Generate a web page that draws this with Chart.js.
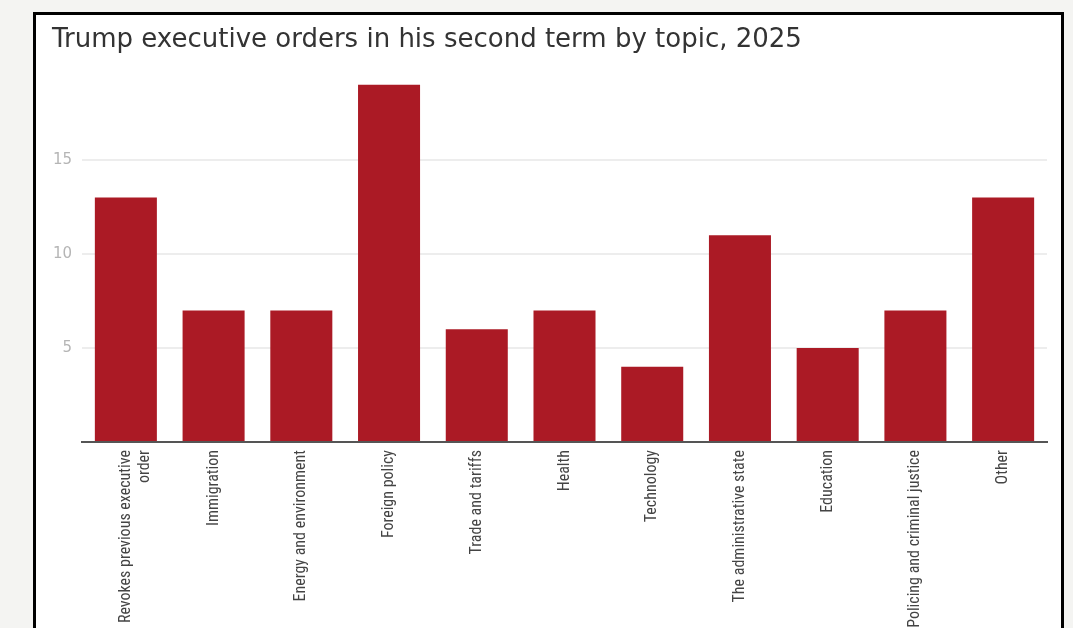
<!DOCTYPE html>
<html>
<head>
<meta charset="utf-8">
<script src="https://cdn.jsdelivr.net/npm/chart.js@4"></script>
<style>
  html, body { margin: 0; padding: 0; }
  body { width: 1073px; height: 628px; overflow: hidden; background: #f4f4f2; position: relative; }
  #panel { position: absolute; left: 33px; top: 12px; width: 1025px; height: 660px; border: 3px solid #000; background: #fff; }
  #wrap { position: absolute; left: 0; top: 0; width: 1025px; height: 640px; }
</style>
</head>
<body>
<div id="panel"><div id="wrap"><canvas id="c"></canvas></div></div>
<script>
const titleText = 'Trump executive orders in his second term by topic, 2025';
const categories = [
  ['Revokes previous executive', 'order'],
  'Immigration',
  'Energy and environment',
  'Foreign policy',
  'Trade and tariffs',
  'Health',
  'Technology',
  'The administrative state',
  'Education',
  'Policing and criminal justice',
  'Other'
];
const orderCounts = [13, 7, 7, 19, 6, 7, 4, 11, 5, 7, 13];
const yTicks = [5, 10, 15];
const yMin = 0, yMax = 20, yStep = 5;

new Chart(document.getElementById('c'), {
  type: 'bar',
  data: {
    labels: categories,
    datasets: [{
      data: orderCounts,
      backgroundColor: '#ab1a25',
      borderWidth: 0,
      categoryPercentage: 1.0,
      barPercentage: 0.707
    }]
  },
  options: {
    responsive: true,
    maintainAspectRatio: false,
    animation: false,
    layout: { padding: { left: 16, right: 14, top: 0, bottom: 0 } },
    plugins: {
      legend: { display: false },
      tooltip: { enabled: false },
      title: {
        display: true,
        text: titleText,
        align: 'start',
        color: '#333333',
        font: { family: "'DejaVu Sans', Roboto, sans-serif", size: 26, weight: 'normal', lineHeight: 1.2 },
        padding: { top: 9.5, bottom: 10.3 }
      }
    },
    scales: {
      x: {
        grid: { display: false },
        border: { display: true, color: '#555555', width: 2 },
        ticks: {
          maxRotation: 90, minRotation: 90, autoSkip: false,
          color: '#444444', padding: 0,
          font: { family: "'Liberation Sans Narrow', 'Arial Narrow', 'Roboto Condensed', 'Liberation Sans', sans-serif", size: 16 }
        },
        afterFit: (s) => { s.height = 213; }
      },
      y: {
        min: yMin, max: yMax,
        border: { display: false },
        grid: {
          drawTicks: false,
          lineWidth: 2,
          color: (ctx) => (yTicks.includes(ctx.tick && ctx.tick.value) ? '#ededed' : 'rgba(0,0,0,0)')
        },
        ticks: {
          stepSize: yStep,
          padding: 10,
          color: '#b5b5b5',
          font: { family: "'DejaVu Sans', Roboto, sans-serif", size: 15 },
          callback: (v) => (yTicks.includes(v) ? String(v) : '')
        },
        afterFit: (s) => { s.width = 30; }
      }
    }
  }
});
</script>
</body>
</html>
